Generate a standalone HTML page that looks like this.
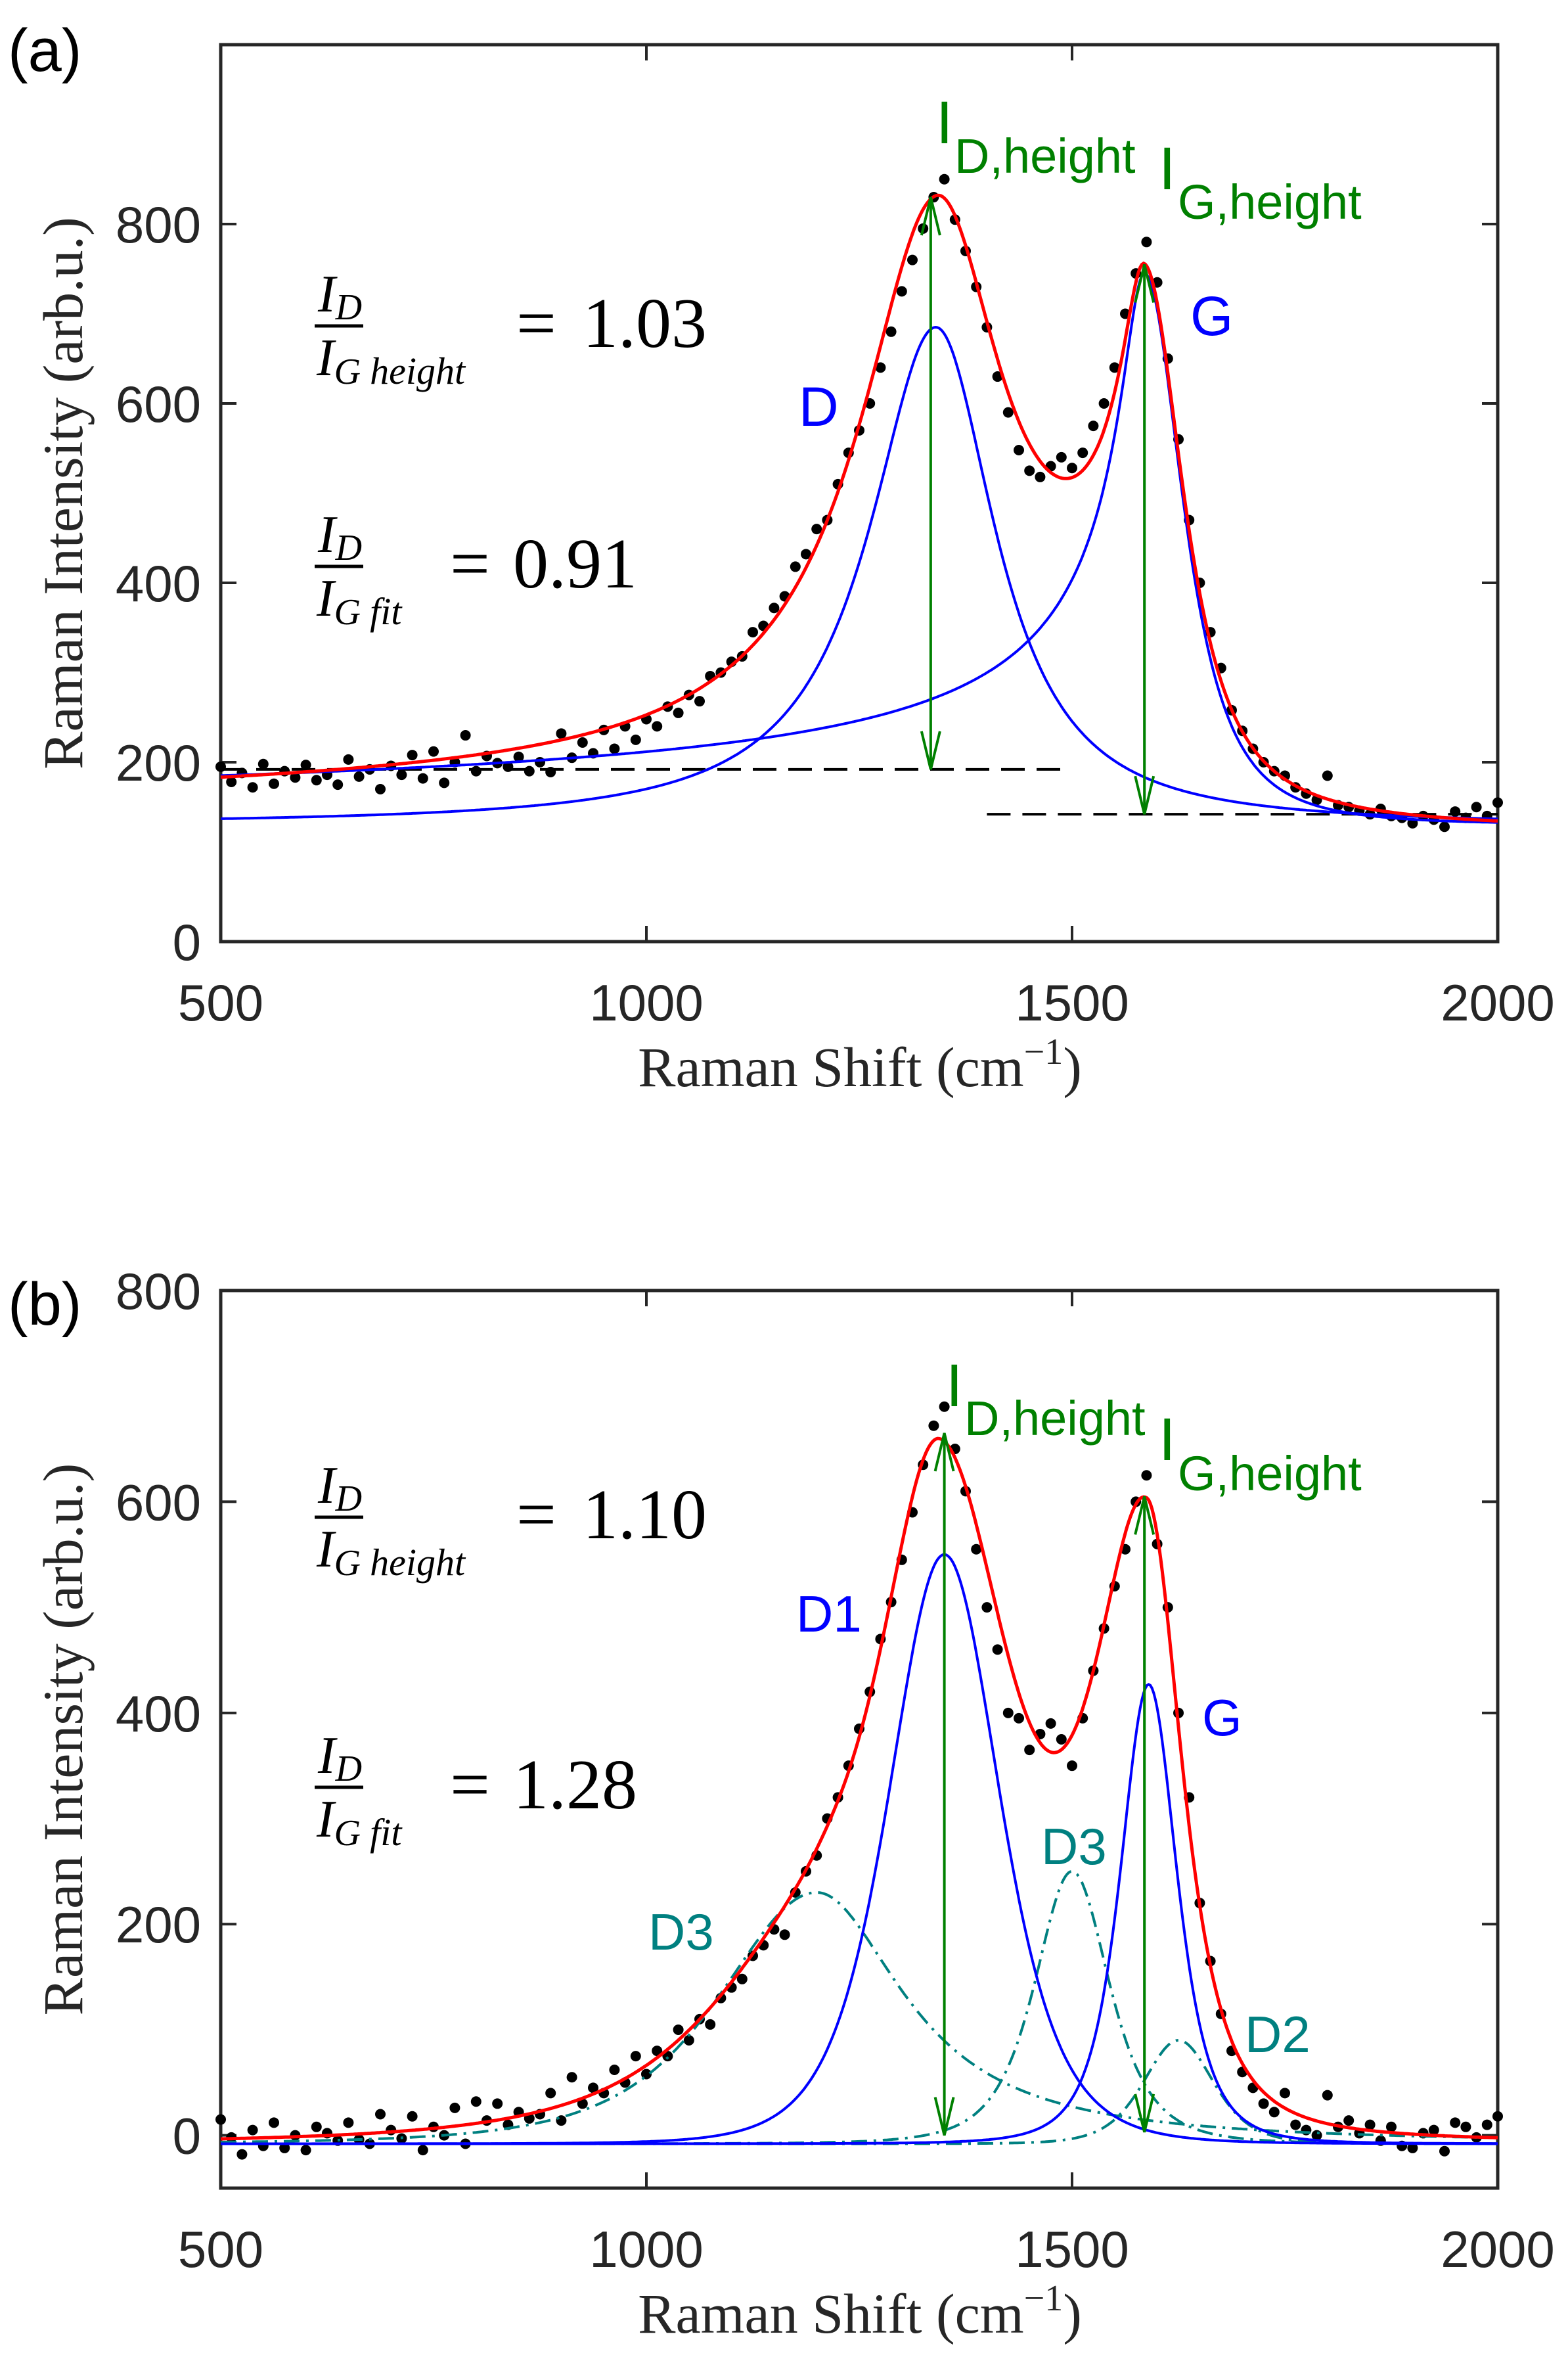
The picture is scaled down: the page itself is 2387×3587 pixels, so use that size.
<!DOCTYPE html>
<html><head><meta charset="utf-8"><style>
html,body{margin:0;padding:0;background:#fff;}
svg{display:block;}
</style></head><body>
<svg id="fig" width="2387" height="3587" viewBox="0 0 2387 3587" xmlns="http://www.w3.org/2000/svg"></svg>
<script>
// ---------- data ----------
const xTicks = [500, 1000, 1500, 2000];
const yTicksA = [0, 200, 400, 600, 800];
const yTicksB = [0, 200, 400, 600, 800];
const xStart = 500, xStep = 12.5;
const dotsA = [195,178,188,172,198,176,190,183,197,180,186,175,203,184,192,170,196,186,208,182,212,177,200,230,190,207,199,195,206,190,200,189,232,205,222,210,236,215,240,225,248,240,262,255,275,268,296,300,312,318,345,352,372,385,418,432,460,470,510,545,570,600,640,680,725,760,795,830,850,805,770,730,685,630,590,548,525,518,530,540,528,545,575,600,640,700,745,780,735,650,560,470,400,345,305,258,235,215,200,190,185,172,165,158,185,152,150,146,142,148,140,138,132,140,136,128,145,138,150,140,155];
const dotsB = [15,-2,-18,5,-10,12,-12,0,-14,8,2,-5,12,-4,-8,20,5,-3,18,-14,8,0,26,-8,32,14,30,10,22,16,20,40,14,55,30,45,40,62,50,75,58,80,75,100,90,110,105,130,140,148,170,180,195,190,230,250,265,300,320,350,385,420,470,505,545,590,635,672,690,650,610,555,500,460,400,395,365,380,390,375,350,395,440,480,520,555,600,625,560,500,400,320,220,165,115,80,60,45,30,22,40,10,5,0,38,8,14,2,10,-5,8,-10,-12,2,5,-15,12,8,-2,10,18];
// peak parameters: [center, amplitude, leftWidth, leftPower, rightWidth, rightPower]
const peakDA = [1340, 555, 95, 1, 90, 1.1];
const peakGA = [1585, 615, 25, 0.32, 70, 1.5];
const baseA = 130;
const fitPeaksA = [[1340, 578, 110, 1, 100, 1.1],[1585, 565, 25, 0.32, 70, 1.5]];
const fitBaseA = 123;
const peakD1B = [1350, 558, 150, 3, 150, 3];
const peakGB = [1590, 435, 61, 2, 61, 2];
const peakD3aB = [1200, 238, 208, 2, 125, 1];
const peakD3bB = [1500, 258, 80, 2, 80, 2];
const peakD2B = [1625, 98, 95, 3, 95, 3];
const baseB = -8;
const fitPeaksB = [[1200, 180, 208, 1.5, 125, 1],[1345, 560, 140, 2.5, 170, 2.5],[1588, 560, 100, 1.5, 70, 1.8]];
const fitBaseB = -8;
// arrows: [x, yTop, yBottom]
const arrowDA = [1334, 830, 192], arrowGA = [1585, 755, 142];
const arrowDB = [1350, 665, 0], arrowGB = [1585, 605, 3];
// dashed reference lines: [x1, x2, y]
const dashA1 = [500, 1500, 192], dashA2 = [1400, 2000, 142];

// ---------- helpers ----------
const NS = "http://www.w3.org/2000/svg";
const svg = document.getElementById('fig');
function mk(tag, attrs, parent){ const e=document.createElementNS(NS,tag); for(const k in attrs) e.setAttribute(k,attrs[k]); (parent||svg).appendChild(e); return e; }
function peak(p, x){ const d=x-p[0]; const w=d<0?p[2]:p[4], pw=d<0?p[3]:p[5]; return p[1]/Math.pow(1+(d/w)*(d/w), pw); }
function makeAxes(top, bottom, ymin, ymax){
  const L=336, R=2280;
  return {L,R,top,bottom, sx:x=>L+(x-500)/1500*(R-L), sy:y=>bottom-(y-ymin)/(ymax-ymin)*(bottom-top)};
}
function curvePath(ax, fn){ let d=''; for(let x=500;x<=2000;x+=2){ d+=(x===500?'M':'L')+ax.sx(x).toFixed(1)+','+ax.sy(fn(x)).toFixed(1);} return d; }
function drawFrame(ax, yTicks, g){
  const fr = mk('rect',{x:ax.L,y:ax.top,width:ax.R-ax.L,height:ax.bottom-ax.top,fill:'none',stroke:'#262626','stroke-width':5},g);
   
  xTicks.forEach(v=>{ const x=ax.sx(v);
    mk('line',{x1:x,y1:ax.bottom,x2:x,y2:ax.bottom-24,stroke:'#262626','stroke-width':4},g);
    mk('line',{x1:x,y1:ax.top,x2:x,y2:ax.top+24,stroke:'#262626','stroke-width':4},g);
    const t=mk('text',{x:x,y:ax.bottom+120,'text-anchor':'middle','font-family':'Liberation Sans, sans-serif','font-size':78,fill:'#262626'},g);
    t.textContent=v;
     
  });
  yTicks.forEach(v=>{ const y=ax.sy(v);
    mk('line',{x1:ax.L,y1:y,x2:ax.L+24,y2:y,stroke:'#262626','stroke-width':4},g);
    mk('line',{x1:ax.R,y1:y,x2:ax.R-24,y2:y,stroke:'#262626','stroke-width':4},g);
    const t=mk('text',{x:ax.L-30,y:y+28,'text-anchor':'end','font-family':'Liberation Sans, sans-serif','font-size':78,fill:'#262626'},g);
    t.textContent=v;
     
  });
  const xl=mk('text',{x:1309,y:ax.bottom+220,'text-anchor':'middle','font-family':'Liberation Serif, serif','font-size':86,fill:'#262626'},g);
  xl.innerHTML='Raman Shift (cm<tspan dy="-34" font-size="56">\u22121</tspan><tspan dy="34">)</tspan>';
   
  const cy=(ax.top+ax.bottom)/2;
  const yl=mk('text',{x:125,y:cy,'text-anchor':'middle','font-family':'Liberation Serif, serif','font-size':86,fill:'#262626',transform:'rotate(-90 125 '+cy+')'},g);
  yl.textContent='Raman Intensity (arb.u.)';
   
}
function drawDots(ax, vals, g){
  vals.forEach((v,i)=>{ const c=mk('circle',{cx:ax.sx(xStart+i*xStep),cy:ax.sy(v),r:8,fill:'#000'},g);
      });
}
function drawArrow(ax, a, g){
  const x=ax.sx(a[0]), y1=ax.sy(a[1]), y2=ax.sy(a[2]);
  mk('line',{x1:x,y1:y1,x2:x,y2:y2,stroke:'#008000','stroke-width':4},g);
  mk('path',{d:`M${x-14},${y1+58}L${x},${y1}L${x+14},${y1+58}M${x-14},${y2-58}L${x},${y2}L${x+14},${y2-58}`,fill:'none',stroke:'#008000','stroke-width':4},g);
}
function label(txt,x,y,size,color,g,name,family){
  const t=mk('text',{x:x,y:y,'font-family':family||'Liberation Sans, sans-serif','font-size':size,fill:color},g);
  t.textContent=txt;   return t;
}
function fraction(bar, sub, eqX, numX, value, g, name){
  const f=mk('g',{},g);  
  mk('line',{x1:479,y1:bar,x2:553,y2:bar,stroke:'#000','stroke-width':5},f);
  const n=mk('text',{x:484,y:bar-22,'font-family':'Liberation Serif, serif','font-style':'italic','font-size':80,fill:'#000'},f);
  n.innerHTML='I<tspan font-size="56" dy="12">D</tspan>';
  const d=mk('text',{x:482,y:bar+75,'font-family':'Liberation Serif, serif','font-style':'italic','font-size':80,fill:'#000'},f);
  d.innerHTML='I<tspan font-size="56" dy="13">G</tspan><tspan font-size="58" dx="14">'+sub+'</tspan>';
  const e=mk('text',{x:eqX,y:bar+32,'font-family':'Liberation Serif, serif','font-size':108,fill:'#000'},f);
  e.textContent='=';
  const v=mk('text',{x:numX,y:bar+32,'font-family':'Liberation Serif, serif','font-size':108,fill:'#000'},f);
  v.textContent=value;
}
function drawLabelsGreen(g, yOff){
  label('I',1425,218+yOff,92,'#008000',g,'id-height-label');
  label('D,height',1453,263+yOff,74,'#008000',g,'id-height-subscript');
  label('I',1764,288+yOff,92,'#008000',g,'ig-height-label');
  label('G,height',1793,333+yOff,74,'#008000',g,'ig-height-subscript');
}

// ---------- panel a ----------
const gA = mk('g',{});  
const axA = makeAxes(68, 1433, 0, 1000);
drawFrame(axA, yTicksA, gA);
const dA1=mk('line',{x1:axA.sx(dashA1[0]),x2:axA.sx(dashA1[1]),y1:axA.sy(dashA1[2]),y2:axA.sy(dashA1[2]),stroke:'#000','stroke-width':4,'stroke-dasharray':'36 18'},gA);
 
const dA2=mk('line',{x1:axA.sx(dashA2[0]),x2:axA.sx(dashA2[1]),y1:axA.sy(dashA2[2]),y2:axA.sy(dashA2[2]),stroke:'#000','stroke-width':4,'stroke-dasharray':'36 18'},gA);
 
drawDots(axA, dotsA, gA);
const cDA=mk('path',{d:curvePath(axA,x=>baseA+peak(peakDA,x)),fill:'none',stroke:'#0000ff','stroke-width':4},gA);
 
const cGA=mk('path',{d:curvePath(axA,x=>baseA+peak(peakGA,x)),fill:'none',stroke:'#0000ff','stroke-width':4},gA);
 
const cFA=mk('path',{d:curvePath(axA,x=>fitBaseA+fitPeaksA.reduce((s,p)=>s+peak(p,x),0)),fill:'none',stroke:'#ff0000','stroke-width':5},gA);
 
drawArrow(axA, arrowDA, gA); drawArrow(axA, arrowGA, gA);
drawLabelsGreen(gA, 0);
label('G',1812,510,84,'#0000ff',gA,'g-peak-label');
label('D',1216,648,84,'#0000ff',gA,'d-peak-label');
fraction(496,'height',786,887,'1.03',gA,'ratio-height-eq');
fraction(862,'fit',685,781,'0.91',gA,'ratio-fit-eq');
label('(a)',12,108,92,'#000',gA,'panel-a-label');

// ---------- panel b ----------
const gB = mk('g',{});  
const axB = makeAxes(1964, 3330, -50, 800);
drawFrame(axB, yTicksB, gB);
drawDots(axB, dotsB, gB);
const compsB=[['d3-left-curve',peakD3aB,'#008080','24 10 4 10'],['d3-right-curve',peakD3bB,'#008080','24 10 4 10'],['d2-curve',peakD2B,'#008080','24 10 4 10'],['d1-curve',peakD1B,'#0000ff',''],['g-curve',peakGB,'#0000ff','']];
compsB.forEach(c=>{ const p=mk('path',{d:curvePath(axB,x=>baseB+peak(c[1],x)),fill:'none',stroke:c[2],'stroke-width':4},gB);
  if(c[3]) p.setAttribute('stroke-dasharray',c[3]);
    });
const cFB=mk('path',{d:curvePath(axB,x=>fitBaseB+fitPeaksB.reduce((s,p)=>s+peak(p,x),0)),fill:'none',stroke:'#ff0000','stroke-width':5},gB);
 
drawArrow(axB, arrowDB, gB); drawArrow(axB, arrowGB, gB);
label('I',1440,2140,92,'#008000',gB,'id-height-label');
label('D,height',1468,2184,74,'#008000',gB,'id-height-subscript');
label('I',1764,2222,92,'#008000',gB,'ig-height-label');
label('G,height',1793,2268,74,'#008000',gB,'ig-height-subscript');
label('D1',1212,2483,78,'#0000ff',gB,'d1-label');
label('G',1830,2641,78,'#0000ff',gB,'g-label');
label('D3',987,2967,78,'#008080',gB,'d3-left-label');
label('D3',1585,2837,78,'#008080',gB,'d3-right-label');
label('D2',1895,3123,78,'#008080',gB,'d2-label');
fraction(2309,'height',786,887,'1.10',gB,'ratio-height-eq');
fraction(2720,'fit',685,781,'1.28',gB,'ratio-fit-eq');
label('(b)',12,2016,92,'#000',gB,'panel-b-label');
</script>
</body></html>
